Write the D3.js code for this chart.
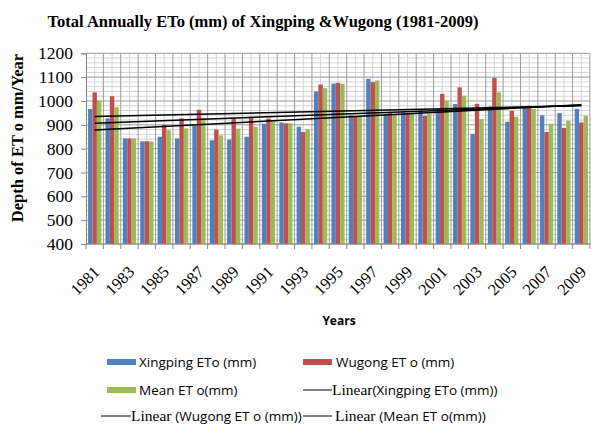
<!DOCTYPE html>
<html><head><meta charset="utf-8">
<script src="https://cdn.jsdelivr.net/npm/d3@7/dist/d3.min.js"></script>
<style>body{margin:0;background:#fff}</style>
</head><body>
<svg id="c" width="591" height="425"></svg>
<script>
const years = [1981,1982,1983,1984,1985,1986,1987,1988,1989,1990,1991,1992,1993,1994,1995,1996,1997,1998,1999,2000,2001,2002,2003,2004,2005,2006,2007,2008,2009];
const xingping = [966,927,843,831,850,843,896,835,838,850,905,910,892,1040,1073,940,1093,946,952,960,966,987,862,977,913,977,940,949,967];
const wugong   = [1036,1020,843,831,900,927,963,880,926,934,926,906,870,1069,1076,935,1079,952,946,938,1030,1057,988,1097,959,980,870,887,910];
const meanEto  = [1001,974,843,830,877,885,928,856,884,892,914,907,881,1054,1072,935,1086,942,946,946,1000,1022,924,1036,934,967,905,918,938];
const seriesNames = ["Xingping ETo (mm)","Wugong ET o (mm)","Mean ET o(mm)"];
const trendStart = [878, 935, 907];
const trendEnd   = [984, 980, 982];
const yTicks = [400,500,600,700,800,900,1000,1100,1200];
const xTickYears = [1981,1983,1985,1987,1989,1991,1993,1995,1997,1999,2001,2003,2005,2007,2009];
const colors = ["#4F81BD","#C0504D","#9BBB59"];

const svg = d3.select("#c");
const L = 86, R = 590, T = 53.3, B = 244;
const x = d3.scaleBand().domain(years).range([L, R]).padding(0);
const bw = x.bandwidth();
const xs = d3.scaleBand().domain([0,1,2]).range([bw*0.12, bw*0.88]).padding(0);
const y = d3.scaleLinear().domain([400,1200]).range([B, T]);
const series = [xingping, wugong, meanEto];

// minor horizontal grid
const minorY = d3.range(0, 41).map(i => 400 + i*20).filter(v => v % 100 !== 0);
svg.append("g").selectAll("line").data(minorY).join("line")
  .attr("x1", L).attr("x2", R).attr("y1", d => y(d)).attr("y2", d => y(d))
  .attr("stroke", "#d4d4d4").attr("stroke-width", 1);
// minor vertical grid at category centres
svg.append("g").selectAll("line").data(years).join("line")
  .attr("x1", d => x(d)+bw/2).attr("x2", d => x(d)+bw/2).attr("y1", T).attr("y2", B)
  .attr("stroke", "#d4d4d4").attr("stroke-width", 1);
// major horizontal grid
svg.append("g").selectAll("line").data(yTicks).join("line")
  .attr("x1", L).attr("x2", R).attr("y1", d => y(d)).attr("y2", d => y(d))
  .attr("stroke", "#9a9a9a").attr("stroke-width", 1);
// major vertical grid at category boundaries
svg.append("g").selectAll("line").data(years.slice(1).concat(["end"])).join("line")
  .attr("x1", (d,i) => i < years.length-1 ? x(d) : R).attr("x2", (d,i) => i < years.length-1 ? x(d) : R)
  .attr("y1", T).attr("y2", B)
  .attr("stroke", "#9a9a9a").attr("stroke-width", 1);

// bars
series.forEach((s, k) => {
  svg.append("g").selectAll("rect").data(s).join("rect")
    .attr("x", (d,i) => x(years[i]) + xs(k))
    .attr("width", xs.bandwidth())
    .attr("y", d => y(d))
    .attr("height", d => B - y(d))
    .attr("fill", colors[k]);
});

// axes
const yAxis = d3.axisLeft(y).tickValues(yTicks).tickSize(5).tickFormat(d3.format("d"));
const gy = svg.append("g").attr("transform", `translate(${L},0)`).call(yAxis);
gy.select(".domain").attr("stroke", "#868686");
gy.selectAll(".tick line").attr("stroke", "#868686");
gy.selectAll(".tick text").attr("x", -13).attr("font-family", "'Liberation Serif', 'Times New Roman', serif").attr("font-size", 17.5).attr("fill", "#000");

svg.append("line").attr("x1", L).attr("x2", R).attr("y1", B).attr("y2", B).attr("stroke", "#868686");
svg.append("g").selectAll("line").data(years.concat(["end"])).join("line")
  .attr("x1", (d,i) => i < years.length ? x(d) : R).attr("x2", (d,i) => i < years.length ? x(d) : R)
  .attr("y1", B).attr("y2", B+5).attr("stroke", "#868686");

svg.append("g").selectAll("text").data(xTickYears).join("text")
  .attr("transform", d => `translate(${x(d)+bw/2+6},273) rotate(-45)`)
  .attr("text-anchor", "end")
  .attr("font-family", "'Liberation Serif', 'Times New Roman', serif")
  .attr("font-size", 16.5).attr("fill", "#000")
  .text(d => d);

// trend lines
const line = d3.line().x(d => x(d[0]) + bw/2).y(d => y(d[1]));
trendStart.forEach((v, k) => {
  svg.append("path").attr("d", line([[years[0], v],[years[years.length-1], trendEnd[k]]]))
    .attr("stroke", "#000").attr("stroke-width", 1.5).attr("fill", "none");
});

// titles
svg.append("text").attr("x", 263).attr("y", 27).attr("text-anchor", "middle")
  .attr("font-family", "'Liberation Serif', 'Times New Roman', serif").attr("font-weight", "bold")
  .attr("font-size", 16.5).text("Total Annually ETo (mm) of Xingping &Wugong (1981-2009)");
svg.append("text").attr("transform", "translate(17,138) rotate(-90)").attr("dy", "0.35em")
  .attr("text-anchor", "middle")
  .attr("font-family", "'Liberation Serif', 'Times New Roman', serif").attr("font-weight", "bold")
  .attr("font-size", 16.5).text("Depth of ET o mm/Year");
svg.append("text").attr("x", 339).attr("y", 325).attr("text-anchor", "middle")
  .attr("font-family", "'Open Sans', sans-serif").attr("font-weight", "bold")
  .attr("font-size", 12).text("Years");

// legend
const sans = "'Open Sans', sans-serif", serif = "'Liberation Serif', 'Times New Roman', serif";
const leg = svg.append("g");
function swatch(xp, yp, c) {
  leg.append("rect").attr("x", xp).attr("y", yp-3).attr("width", 29).attr("height", 6).attr("fill", c);
}
function lsw(x1, x2, yp) {
  leg.append("line").attr("x1", x1).attr("x2", x2).attr("y1", yp).attr("y2", yp).attr("stroke", "#000").attr("stroke-width", 1);
}
function ltext(xp, yp, parts) {
  const t = leg.append("text").attr("x", xp).attr("y", yp).attr("dy", "0.35em").attr("font-size", 13.5);
  parts.forEach(p => t.append("tspan").attr("font-family", p[0]).attr("font-size", p[2] || 13.5).text(p[1]));
}
swatch(107, 362, colors[0]); ltext(139, 362, [[sans, seriesNames[0]]]);
swatch(303, 362, colors[1]); ltext(336, 362, [[sans, seriesNames[1]]]);
swatch(107, 390, colors[2]); ltext(139, 390, [[sans, seriesNames[2]]]);
lsw(303, 332, 390); ltext(332, 390, [[serif, "Linear", 15.5], [sans, "(" + seriesNames[0] + ")"]]);
lsw(101, 131, 416); ltext(131, 416, [[serif, "Linear ", 15.5], [sans, " (" + seriesNames[1] + ")"]]);
lsw(303, 332, 416); ltext(335, 416, [[serif, "Linear ", 15.5], [sans, "(" + seriesNames[2] + ")"]]);
</script>
</body></html>
